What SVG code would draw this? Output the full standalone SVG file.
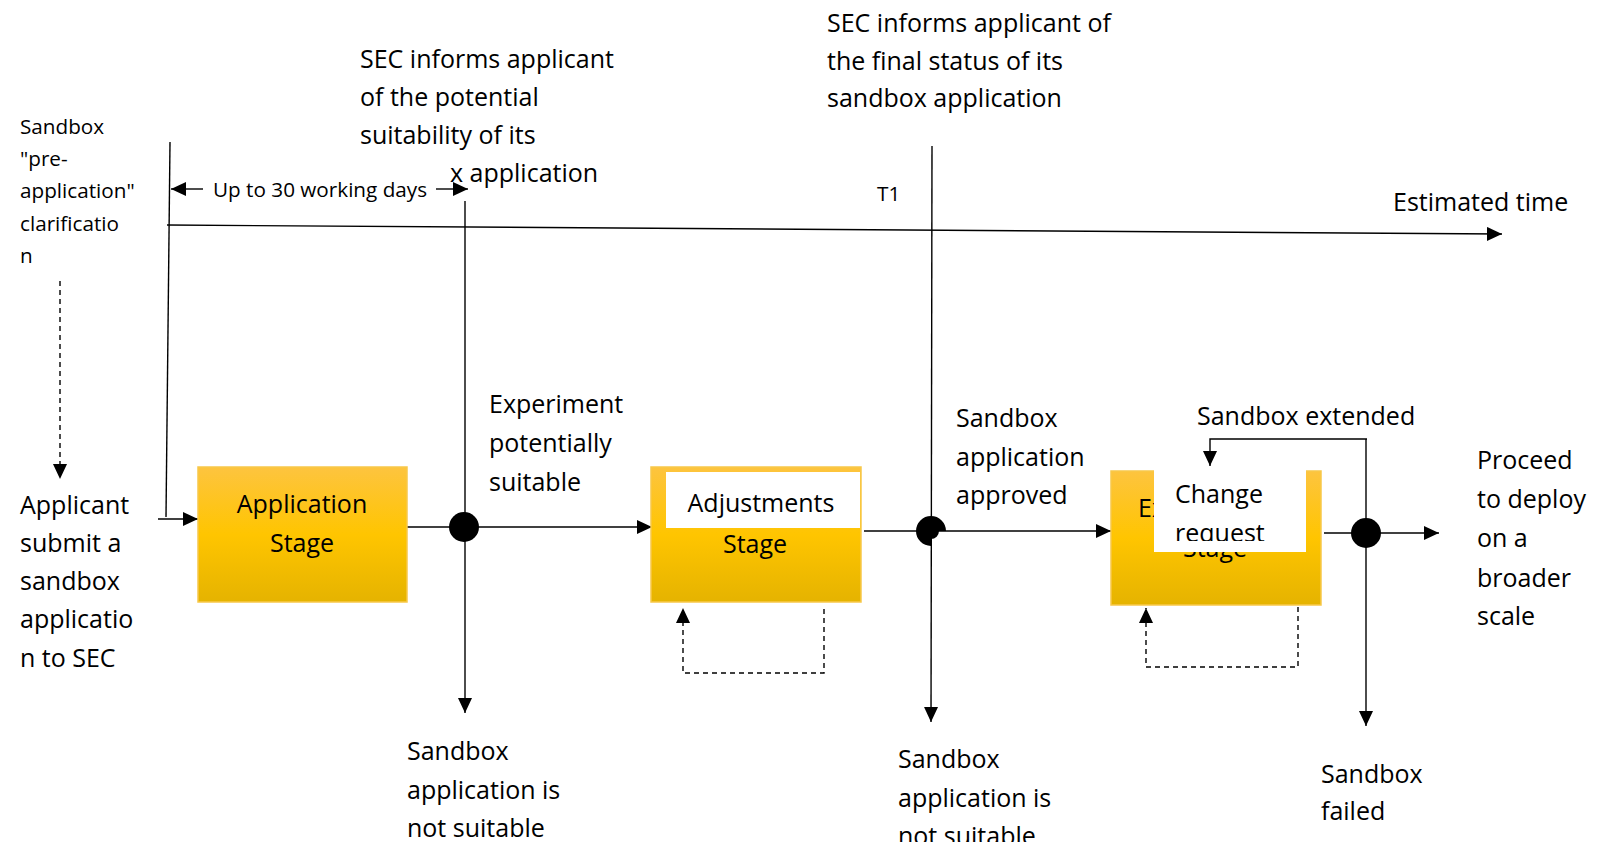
<svg xmlns="http://www.w3.org/2000/svg" width="1602" height="842" viewBox="0 0 1602 842">
<defs>
<linearGradient id="gold" x1="0" y1="0" x2="0" y2="1">
<stop offset="0" stop-color="#FDC43F"/>
<stop offset="0.5" stop-color="#FFC500"/>
<stop offset="1" stop-color="#E5B300"/>
</linearGradient>
<marker id="ah" markerUnits="userSpaceOnUse" markerWidth="16" markerHeight="14" refX="15" refY="7" orient="auto">
<path d="M0,0 L15,7 L0,14 z" fill="#000"/>
</marker>
<clipPath id="cr"><rect x="1150" y="470" width="160" height="71"/></clipPath>
<style>
text{font-family:"Open Sans","Liberation Sans",sans-serif;fill:#000}
.b{font-size:25px}
.s{font-size:20.7px}
.box{fill:url(#gold);stroke:#F7C84A;stroke-width:1.5}
.ln{fill:none;stroke:#000;stroke-width:1.4}
.dl{fill:none;stroke:#000;stroke-width:1.4;stroke-dasharray:5,4}
</style>
</defs>
<rect width="1602" height="842" fill="#fff"/>

<g id="connectors">
<line class="ln" x1="167" y1="225" x2="1502" y2="234" marker-end="url(#ah)"/>
<path class="ln" d="M170,142 L166,517"/>
<line class="ln" x1="158" y1="519" x2="198" y2="519" marker-end="url(#ah)"/>
<line class="ln" x1="203" y1="189" x2="171" y2="189" marker-end="url(#ah)"/>
<line class="ln" x1="436" y1="189" x2="468" y2="189" marker-end="url(#ah)"/>
<line class="ln" x1="465" y1="201" x2="465" y2="713" marker-end="url(#ah)"/>
<line class="ln" x1="407" y1="527" x2="652" y2="527" marker-end="url(#ah)"/>
<line class="ln" x1="932" y1="146" x2="931" y2="722" marker-end="url(#ah)"/>
<line class="ln" x1="864" y1="531" x2="1111" y2="531" marker-end="url(#ah)"/>
<line class="ln" x1="1324" y1="533" x2="1439" y2="533" marker-end="url(#ah)"/>
<path class="ln" d="M1366,439 L1366,726" marker-end="url(#ah)"/>
<path class="ln" d="M1367,439 H1210 V466" marker-end="url(#ah)"/>
<line class="dl" x1="60" y1="281" x2="60" y2="479" marker-end="url(#ah)"/>
<path class="dl" d="M824,609 V673 H683 V608" marker-end="url(#ah)"/>
<path class="dl" d="M1298,607 V667 H1146 V608" marker-end="url(#ah)"/>
<circle cx="464" cy="527" r="15" fill="#000"/>
<path d="M931,531 H946 A15,15 0 1 0 931,546 Z M931,531 H939 A8,8 0 0 1 931,539 Z" fill="#000"/>
<circle cx="1366" cy="533" r="15" fill="#000"/>
</g>

<g id="app-stage">
<rect class="box" x="198" y="467" width="209" height="135"/>
<text class="b" x="302" y="513" text-anchor="middle">Application</text>
<text class="b" x="302" y="552" text-anchor="middle">Stage</text>
</g>

<g id="adj-stage">
<rect class="box" x="651" y="467" width="210" height="135"/>
<rect x="666" y="472" width="194" height="56" fill="#fff"/>
<text class="b" x="761" y="512" text-anchor="middle">Adjustments</text>
<text class="b" x="755" y="553" text-anchor="middle">Stage</text>
</g>

<g id="exp-stage">
<rect class="box" x="1111" y="471" width="210" height="134"/>
<text class="b" x="1138" y="517">Ex</text>
<text class="b" x="1215" y="557" text-anchor="middle">Stage</text>
<rect x="1154" y="470" width="152" height="82" fill="#fff"/>
<g clip-path="url(#cr)">
<text class="b" x="1175" y="503">Change</text>
<text class="b" x="1175" y="542">request</text>
</g>
</g>

<g id="labels">
<text class="s"><tspan x="20" y="134">Sandbox</tspan><tspan x="20" y="166">"pre-</tspan><tspan x="20" y="198">application"</tspan><tspan x="20" y="231">clarificatio</tspan><tspan x="20" y="263">n</tspan></text>
<text class="b"><tspan x="20" y="514">Applicant</tspan><tspan x="20" y="552">submit a</tspan><tspan x="20" y="590">sandbox</tspan><tspan x="20" y="628">applicatio</tspan><tspan x="20" y="667">n to SEC</tspan></text>
<text class="s" x="213" y="197">Up to 30 working days</text>
<text class="b"><tspan x="360" y="68">SEC informs applicant</tspan><tspan x="360" y="106">of the potential</tspan><tspan x="360" y="144">suitability of its</tspan><tspan x="450" y="182">x application</tspan></text>
<text class="b"><tspan x="489" y="413">Experiment</tspan><tspan x="489" y="452">potentially</tspan><tspan x="489" y="491">suitable</tspan></text>
<text class="b"><tspan x="407" y="760">Sandbox</tspan><tspan x="407" y="799">application is</tspan><tspan x="407" y="837">not suitable</tspan></text>
<text class="b"><tspan x="827" y="32">SEC informs applicant of</tspan><tspan x="827" y="70">the final status of its</tspan><tspan x="827" y="107">sandbox application</tspan></text>
<text class="s" x="877" y="201">T1</text>
<text class="b" x="1393" y="211">Estimated time</text>
<text class="b"><tspan x="956" y="427">Sandbox</tspan><tspan x="956" y="466">application</tspan><tspan x="956" y="504">approved</tspan></text>
<text class="b"><tspan x="898" y="768">Sandbox</tspan><tspan x="898" y="807">application is</tspan><tspan x="898" y="845">not suitable</tspan></text>
<text class="b" x="1197" y="425">Sandbox extended</text>
<text class="b"><tspan x="1477" y="469">Proceed</tspan><tspan x="1477" y="508">to deploy</tspan><tspan x="1477" y="547">on a</tspan><tspan x="1477" y="587">broader</tspan><tspan x="1477" y="625">scale</tspan></text>
<text class="b"><tspan x="1321" y="783">Sandbox</tspan><tspan x="1321" y="820">failed</tspan></text>
</g>
</svg>
